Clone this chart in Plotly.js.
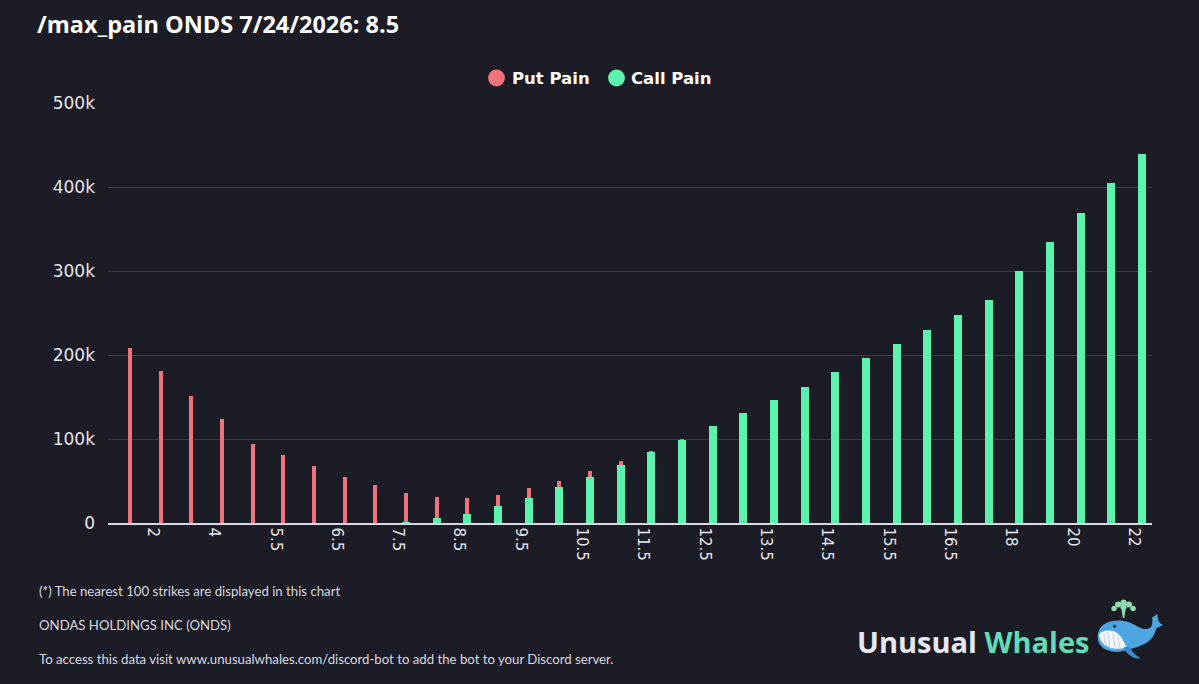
<!DOCTYPE html>
<html>
<head>
<meta charset="utf-8">
<script src="https://cdn.plot.ly/plotly-3.0.1.min.js"></script>
<style>
  html, body { margin: 0; padding: 0; background: #1b1c25; }
  #chart { width: 1199px; height: 684px; }
</style>
</head>
<body>
<div id="chart"></div>
<script>
// Strike prices on the x axis
const strikes = ['1','2','3','4','5','5.5','6','6.5','7','7.5','8','8.5','9','9.5','10','10.5','11','11.5',
                 '12','12.5','13','13.5','14','14.5','15','15.5','16','16.5','17','18','19','20','21','22'];

// Put pain per strike (USD)
const putPain = [208500,180500,151600,123700,94300,80800,67700,55300,45300,35300,25900,19100,13500,11100,
                 8000,6800,4400,1800,1500,600,400,300,200,100,0,0,0,0,0,0,0,0,0,0];

// Call pain per strike (USD)
const callPain = [0,0,0,0,0,0,0,0,0,800,5600,11200,19900,30300,42600,54900,69200,84000,99000,115000,
                  131000,146400,162300,179400,196900,213600,230300,247400,265300,299900,334500,369600,404200,438800];

// Strikes that carry a label on the x axis
const tickLabels = ['2','4','5.5','6.5','7.5','8.5','9.5','10.5','11.5','12.5','13.5','14.5','15.5','16.5','18','20','22'];

const RED = '#f0727a';
const GREEN = '#5cf2ae';
const BG = '#1b1c25';

const W = 1199, H = 684;
const plotL = 108, plotR = 1152, plotT = 103, plotB = 523;
const px = x => (x - plotL) / (plotR - plotL);
const py = y => (plotB - y) / (plotB - plotT);

const whaleSvg = `<svg xmlns="http://www.w3.org/2000/svg" viewBox="0 0 100 100">
  <g fill="#8fdcae">
    <circle cx="42" cy="8" r="4.5"/><circle cx="34" cy="11" r="4.5"/><circle cx="50" cy="11" r="4.5"/>
    <circle cx="28" cy="17" r="4"/><circle cx="56" cy="17" r="4"/><circle cx="42" cy="15" r="4.5"/>
    <path d="M39 19 L45 19 L43 31 L41 31 Z"/>
  </g>
  <path d="M4 58 C4 38 28 30 50 37 C63 42 70 50 80 46 C84 44 85 38 84 30 L92 25 C92 34 94 39 100 41 L90 46 C88 58 80 68 63 73 C49 77 38 82 27 80 C12 78 4 71 4 58 Z" fill="#4da6e0"/>
  <path d="M6 56 C8 74 28 80 46 74 C42 63 36 53 27 50 C17 48 8 50 6 56 Z" fill="#f2f6fa"/>
  <g stroke="#b9d3e8" stroke-width="1.3"><line x1="13" y1="53" x2="15" y2="72"/><line x1="19" y1="51" x2="22" y2="76"/><line x1="26" y1="51" x2="30" y2="78"/><line x1="33" y1="54" x2="37" y2="77"/></g>
  <path d="M42 74 C47 86 58 92 67 90 C59 85 54 80 51 73 Z" fill="#3a8cc8"/>
  <circle cx="29" cy="43" r="2.4" fill="#1e3550"/>
</svg>`;

const traces = [
  {
    type: 'bar', x: strikes, y: callPain, name: 'Call Pain',
    marker: { color: GREEN }, width: 0.26, hoverinfo: 'skip', showlegend: false
  },
  {
    type: 'bar', x: strikes, y: putPain, name: 'Put Pain',
    marker: { color: RED }, width: 0.13, hoverinfo: 'skip', showlegend: false
  }
];

// Legend row: round swatch + bold label per series
const legendItems = [
  { name: 'Put Pain', color: RED, cx: 496.5, tx: 510 },
  { name: 'Call Pain', color: GREEN, cx: 616.5, tx: 629 }
];
const legendY = 78, dotR = 8.4;

const footFont = { family: 'Lato, "Open Sans", sans-serif', size: 13.2, color: '#d8d8e0' };

const annotations = [
  { text: '(*) The nearest 100 strikes are displayed in this chart', xref: 'paper', yref: 'paper',
    x: px(37), y: py(591), xanchor: 'left', yanchor: 'middle', showarrow: false, font: footFont },
  { text: 'ONDAS HOLDINGS INC (ONDS)', xref: 'paper', yref: 'paper',
    x: px(37), y: py(625), xanchor: 'left', yanchor: 'middle', showarrow: false, font: footFont },
  { text: 'To access this data visit www.unusualwhales.com/discord-bot to add the bot to your Discord server.',
    xref: 'paper', yref: 'paper', x: px(37), y: py(659), xanchor: 'left', yanchor: 'middle',
    showarrow: false, font: footFont },
  { text: '<b>Unusual <span style="color:#62dbb7">Whales</span></b>', xref: 'paper', yref: 'paper',
    x: px(855), y: py(641), xanchor: 'left', yanchor: 'middle', showarrow: false,
    font: { family: '"Open Sans", sans-serif', size: 29, color: '#e8e8f4' } }
];
const shapes = [];
legendItems.forEach(it => {
  shapes.push({ type: 'circle', xref: 'paper', yref: 'paper',
    x0: px(it.cx - dotR), x1: px(it.cx + dotR), y0: py(legendY + dotR), y1: py(legendY - dotR),
    fillcolor: it.color, line: { width: 0 } });
  annotations.push({ text: '<b>' + it.name + '</b>', xref: 'paper', yref: 'paper',
    x: px(it.tx), y: py(legendY), xanchor: 'left', yanchor: 'middle', showarrow: false,
    font: { family: '"DejaVu Sans", sans-serif', size: 16.5, color: '#ffffff' } });
});

const layout = {
  width: W, height: H,
  paper_bgcolor: BG, plot_bgcolor: BG,
  margin: { l: plotL, r: W - plotR, t: plotT, b: H - plotB },
  barmode: 'stack',
  bargap: 0,
  showlegend: false,
  title: {
    text: '<b>/max_pain ONDS 7/24/2026: 8.5</b>',
    x: 37 / W, xref: 'container', xanchor: 'left',
    y: 1 - 25 / H, yref: 'container', yanchor: 'middle',
    font: { family: '"Open Sans", sans-serif', size: 23.5, color: '#ffffff' }
  },
  xaxis: {
    type: 'category',
    range: [-0.72, 33.33],
    tickmode: 'array', tickvals: tickLabels, ticktext: tickLabels,
    tickangle: 90, ticklabelshift: -8,
    tickfont: { family: '"DejaVu Sans", sans-serif', size: 15, color: '#e6e6ea' },
    showgrid: false, zeroline: false,
    showline: true, linecolor: '#d8d8e0', linewidth: 1.5,
    ticks: '', fixedrange: true
  },
  yaxis: {
    range: [0, 500000],
    tickvals: [0, 100000, 200000, 300000, 400000, 500000],
    ticktext: ['0', '100k', '200k', '300k', '400k', '500k'],
    tickfont: { family: '"DejaVu Sans", sans-serif', size: 17, color: '#e6e6ea' },
    showgrid: true, gridcolor: '#3a3b47', gridwidth: 1,
    zeroline: false, ticks: '', ticklabelstandoff: 12, fixedrange: true
  },
  shapes: shapes,
  annotations: annotations,
  images: [
    { source: 'data:image/svg+xml;charset=utf-8,' + encodeURIComponent(whaleSvg),
      xref: 'paper', yref: 'paper', x: px(1095), y: py(597), sizex: 68 / (plotR - plotL), sizey: 68 / (plotB - plotT),
      xanchor: 'left', yanchor: 'top', sizing: 'contain', layer: 'above' }
  ]
};

Plotly.newPlot('chart', traces, layout, { displayModeBar: false, staticPlot: true });
</script>
</body>
</html>
